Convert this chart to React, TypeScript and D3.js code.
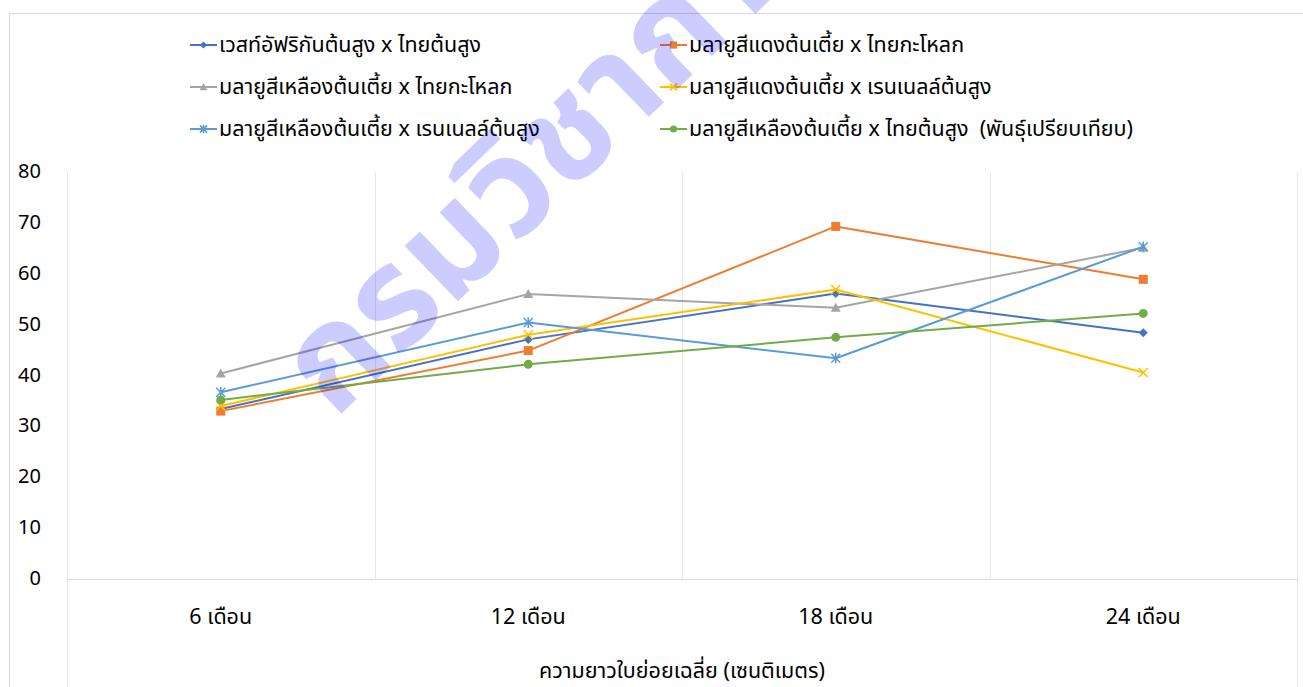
import React from "react";
import * as d3 from "d3";

const categories = ["6 เดือน", "12 เดือน", "18 เดือน", "24 เดือน"];
const seriesNames = [
  "เวสท์อัฟริกันต้นสูง x ไทยต้นสูง",
  "มลายูสีแดงต้นเตี้ย x ไทยกะโหลก",
  "มลายูสีเหลืองต้นเตี้ย x ไทยกะโหลก",
  "มลายูสีแดงต้นเตี้ย x เรนเนลล์ต้นสูง",
  "มลายูสีเหลืองต้นเตี้ย x เรนเนลล์ต้นสูง",
  "มลายูสีเหลืองต้นเตี้ย x ไทยต้นสูง  (พันธุ์เปรียบเทียบ)",
];
const westAfrican = [33.4, 47.1, 56.1, 48.4];
const redDwarfThaiKalok = [33.0, 44.9, 69.3, 58.9];
const yellowDwarfThaiKalok = [40.4, 56.0, 53.3, 65.1];
const redDwarfRennell = [34.0, 48.0, 56.9, 40.6];
const yellowDwarfRennell = [36.7, 50.4, 43.4, 65.3];
const yellowDwarfThaiTall = [35.2, 42.2, 47.5, 52.2];
const yTicks = [0, 10, 20, 30, 40, 50, 60, 70, 80];
const axisTitle = "ความยาวใบย่อยเฉลี่ย (เซนติเมตร)";
const watermark = "กรมวิชาการเกษตร";

const seriesValues = [
  westAfrican,
  redDwarfThaiKalok,
  yellowDwarfThaiKalok,
  redDwarfRennell,
  yellowDwarfRennell,
  yellowDwarfThaiTall,
];
const colors = ["#4472C4", "#ED7D31", "#A5A5A5", "#FFC000", "#5B9BD5", "#70AD47"];
const markers = ["diamond", "square", "triangle", "x", "star", "circle"];

const FONT = "'Leelawadee UI', Tahoma, 'Noto Sans Thai', 'Noto Sans', sans-serif";

function Marker({ type, x, y, color, s = 1 }: { type: string; x: number; y: number; color: string; s?: number }) {
  if (type === "diamond") {
    const r = 4.5 * s;
    return <path d={`M${x},${y - r}L${x + r},${y}L${x},${y + r}L${x - r},${y}Z`} fill={color} />;
  }
  if (type === "square") {
    const r = 4.5 * s;
    return <rect x={x - r} y={y - r} width={2 * r} height={2 * r} fill={color} />;
  }
  if (type === "triangle") {
    const r = 5 * s;
    return <path d={`M${x},${y - r}L${x + r},${y + r * 0.8}L${x - r},${y + r * 0.8}Z`} fill={color} />;
  }
  if (type === "x") {
    const r = 4.5 * s;
    return (
      <path d={`M${x - r},${y - r}L${x + r},${y + r}M${x + r},${y - r}L${x - r},${y + r}`} stroke={color} strokeWidth={1.5} fill="none" />
    );
  }
  if (type === "star") {
    const r = 4.5 * s;
    return (
      <path
        d={`M${x - r},${y - r}L${x + r},${y + r}M${x + r},${y - r}L${x - r},${y + r}M${x},${y - r * 1.2}L${x},${y + r * 1.2}`}
        stroke={color}
        strokeWidth={1.5}
        fill="none"
      />
    );
  }
  return <circle cx={x} cy={y} r={4.5 * s} fill={color} />;
}

export default function App() {
  const W = 1303;
  const H = 687;
  const left = 67;
  const right = 1297;
  const top = 172;
  const bottom = 579;

  const x = d3.scaleBand<string>().domain(categories).range([left, right]);
  const y = d3.scaleLinear().domain([0, 80]).range([bottom, top]);
  const cx = (c: string) => (x(c) as number) + x.bandwidth() / 2;

  const line = d3
    .line<number>()
    .x((_, i) => cx(categories[i]))
    .y((v) => y(v));

  const legendCols = [190, 660];
  const legendRows = [45, 87, 129];

  return (
    <svg
      width={W}
      height={H}
      style={{ position: "absolute", left: 0, top: 0, background: "#fff" }}
      fontFamily={FONT}
    >
      <rect x={0} y={0} width={W} height={H} fill="#fff" />
      {/* chart border */}
      <line x1={9.5} y1={13.5} x2={W} y2={13.5} stroke="#D9D9D9" strokeWidth={1} />
      <line x1={9.5} y1={13.5} x2={9.5} y2={H} stroke="#D9D9D9" strokeWidth={1} />

      {/* vertical gridlines */}
      {categories.map((c, i) => (
        <line
          key={"g" + i}
          x1={Math.round(x(c) as number) + 0.5}
          x2={Math.round(x(c) as number) + 0.5}
          y1={top}
          y2={i === 0 ? H : bottom}
          stroke="#E6E6E6"
          strokeWidth={1}
        />
      ))}
      <line x1={right + 0.5} x2={right + 0.5} y1={top} y2={H} stroke="#E6E6E6" strokeWidth={1} />
      {/* x axis */}
      <line x1={left} x2={right} y1={bottom + 0.5} y2={bottom + 0.5} stroke="#D9D9D9" strokeWidth={1} />

      {/* y tick labels */}
      {yTicks.map((t) => (
        <text key={"y" + t} x={41} y={y(t)} textAnchor="end" dominantBaseline="central" fontSize={20} fill="#000">
          {t}
        </text>
      ))}

      {/* x tick labels */}
      {categories.map((c) => (
        <text key={"x" + c} x={cx(c)} y={617} textAnchor="middle" dominantBaseline="central" fontSize={21.5} fill="#000">
          {c}
        </text>
      ))}
      <text x={(left + right) / 2} y={671} textAnchor="middle" dominantBaseline="central" fontSize={21.5} fill="#000">
        {axisTitle}
      </text>

      {/* series */}
      {seriesValues.map((vals, si) => (
        <g key={"s" + si}>
          <path d={line(vals) || ""} fill="none" stroke={colors[si]} strokeWidth={2} strokeLinejoin="round" strokeLinecap="round" />
          {vals.map((v, i) => (
            <Marker key={i} type={markers[si]} x={cx(categories[i])} y={y(v)} color={colors[si]} />
          ))}
        </g>
      ))}

      {/* legend */}
      {seriesNames.map((name, i) => {
        const lx = legendCols[i % 2];
        const ly = legendRows[Math.floor(i / 2)];
        return (
          <g key={"l" + i}>
            <line x1={lx} x2={lx + 27} y1={ly} y2={ly} stroke={colors[i]} strokeWidth={2} />
            <Marker type={markers[i]} x={lx + 13.5} y={ly} color={colors[i]} s={0.8} />
            <text x={lx + 29} y={ly} dominantBaseline="central" fontSize={21.5} fill="#000" style={{ whiteSpace: "pre" }}>
              {name}
            </text>
          </g>
        );
      })}

      {/* watermark */}
      <text
        x={0}
        y={0}
        transform="translate(335,420) rotate(-44)"
        fontSize={140}
        fontWeight="bold"
        fill="#0000FF"
        fillOpacity={0.2}
      >
        {watermark}
      </text>
    </svg>
  );
}
